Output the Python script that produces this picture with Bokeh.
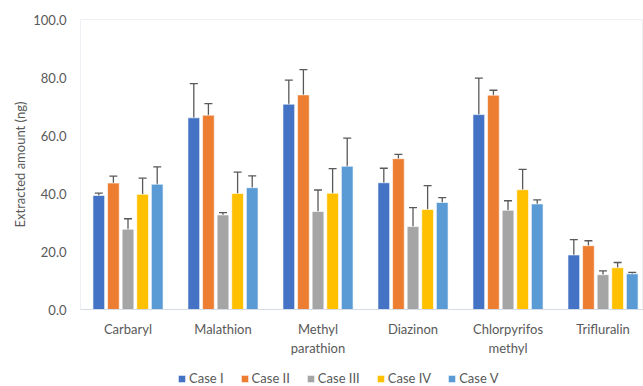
import numpy as np
from bokeh.plotting import figure
from bokeh.layouts import column
from bokeh.models import (ColumnDataSource, Range1d, FixedTicker, NumeralTickFormatter,
                          LinearAxis, Whisker, TeeHead, Legend, LegendItem)
from bokeh.embed import file_html
from bokeh.resources import INLINE

# Pesticides and mean extracted amounts (ng) with their error bars
categories = ["Carbaryl", "Malathion", "Methyl\nparathion", "Diazinon",
              "Chlorpyrifos\nmethyl", "Trifluralin"]
cases = ["Case I", "Case II", "Case III", "Case IV", "Case V"]

case_i = [39.3, 66.1, 70.8, 43.7, 67.2, 18.8]
case_ii = [43.6, 67.0, 74.0, 52.0, 73.9, 22.0]
case_iii = [27.7, 32.6, 33.8, 28.6, 34.2, 12.0]
case_iv = [39.7, 40.0, 40.1, 34.5, 41.3, 14.4]
case_v = [43.2, 42.0, 49.4, 36.9, 36.4, 12.3]

err_i = [0.8, 11.8, 8.3, 5.0, 12.6, 5.3]
err_ii = [2.4, 4.0, 8.7, 1.5, 1.7, 1.7]
err_iii = [3.6, 0.8, 7.4, 6.5, 3.3, 1.3]
err_iv = [5.6, 7.4, 8.5, 8.2, 7.0, 1.8]
err_v = [6.0, 4.1, 9.7, 1.7, 1.4, 0.5]

y_ticks = [0, 20, 40, 60, 80, 100]

colors = ["#4472C4", "#ED7D31", "#A5A5A5", "#FFC000", "#5B9BD5"]
values = [case_i, case_ii, case_iii, case_iv, case_v]
errors = [err_i, err_ii, err_iii, err_iv, err_v]

FONT = "Lato"
TEXT = "#595959"

p = figure(frame_width=563, frame_height=290, min_border_left=80, min_border_right=0,
           min_border_top=19, min_border_bottom=60,
           x_range=Range1d(0, 5.926), y_range=Range1d(0, 100),
           output_backend="svg", toolbar_location=None,
           background_fill_color="white", border_fill_color="white")
p.outline_line_color = "#EDF0F5"
p.outline_line_width = 1
p.xgrid.visible = False
p.ygrid.visible = False

group_x = np.arange(len(categories)) + 0.5
pitch = 0.1537
bar_w = 0.123

for k, (vals, errs, col) in enumerate(zip(values, errors, colors)):
    xs = group_x + (k - 2) * pitch
    v = np.array(vals)
    e = np.array(errs)
    src = ColumnDataSource(dict(x=xs, top=v, upper=v + e, lower=v - e))
    p.vbar(x="x", top="top", bottom=0, width=bar_w, source=src,
           fill_color=col, line_color="white", line_alpha=0.6, line_width=1)
    w = Whisker(base="x", upper="upper", lower="lower", source=src,
                line_color="#595959", line_width=1.3,
                upper_head=TeeHead(size=8, line_color="#595959", line_width=1.3),
                lower_head=TeeHead(size=8, line_color="#595959", line_width=1.3))
    p.add_layout(w)

# category labels under each bar group; two-word names wrap onto a second
# axis row so both lines stay centred
label_pos = [float(x) for x in group_x]
first_line = [c.split("\n")[0] for c in categories]
second_line = [c.split("\n")[1] if "\n" in c else "" for c in categories]

p.xaxis.ticker = FixedTicker(ticks=label_pos)
p.xaxis.major_label_overrides = {pos: t for pos, t in zip(label_pos, first_line)}
p.xaxis.major_tick_line_color = None
p.xaxis.minor_tick_line_color = None
p.xaxis.major_tick_out = 0
p.xaxis.minor_tick_out = 0
p.xaxis.axis_line_color = "#D6DCE6"
p.xaxis.axis_line_width = 1.2
p.xaxis.major_label_standoff = 11
p.xaxis.major_label_text_font = FONT
p.xaxis.major_label_text_font_size = "13px"
p.xaxis.major_label_text_color = TEXT

x2 = LinearAxis(ticker=FixedTicker(ticks=label_pos),
                major_label_overrides={pos: t for pos, t in zip(label_pos, second_line)},
                major_tick_line_color=None, minor_tick_line_color=None,
                major_tick_out=0, minor_tick_out=0,
                axis_line_color=None, major_label_standoff=0,
                major_label_text_font=FONT, major_label_text_font_size="13px",
                major_label_text_color=TEXT)
p.add_layout(x2, "below")

p.yaxis.ticker = FixedTicker(ticks=y_ticks)
p.yaxis.formatter = NumeralTickFormatter(format="0.0")
p.yaxis.major_tick_line_color = None
p.yaxis.minor_tick_line_color = None
p.yaxis.major_tick_out = 0
p.yaxis.minor_tick_out = 0
p.yaxis.axis_line_color = None
p.yaxis.major_label_standoff = 14
p.yaxis.major_label_text_font = FONT
p.yaxis.major_label_text_font_size = "13px"
p.yaxis.major_label_text_color = TEXT
p.yaxis.axis_label = "Extracted amount (ng)"
p.yaxis.axis_label_text_font = FONT
p.yaxis.axis_label_text_font_size = "13px"
p.yaxis.axis_label_text_font_style = "normal"
p.yaxis.axis_label_text_color = TEXT
p.yaxis.axis_label_standoff = 2

# legend strip underneath the chart; each swatch is a flat, zero-height bar
# so only its legend glyph shows
leg = figure(width=643, height=17, min_border=0, x_range=Range1d(0, 1), y_range=Range1d(0, 1),
             output_backend="svg", toolbar_location=None,
             background_fill_color="white", border_fill_color="white")
leg.axis.visible = False
leg.grid.visible = False
leg.outline_line_color = None

items = []
for name, col in zip(cases, colors):
    r = leg.vbar(x=[0.0], top=[0.0], width=0.01, fill_color=col, line_color="white",
                 line_alpha=0.6, line_width=1)
    items.append(LegendItem(label=name, renderers=[r]))

legend = Legend(items=items, orientation="horizontal", location=(97, 0),
                glyph_width=9, glyph_height=9, label_standoff=3, spacing=16,
                padding=0, margin=0, label_height=14,
                label_text_font=FONT, label_text_font_size="13px",
                label_text_color=TEXT, border_line_color=None,
                background_fill_alpha=0)
leg.add_layout(legend)

page = column(p, leg, spacing=0)
open("out.html", "w").write(file_html(page, INLINE))
